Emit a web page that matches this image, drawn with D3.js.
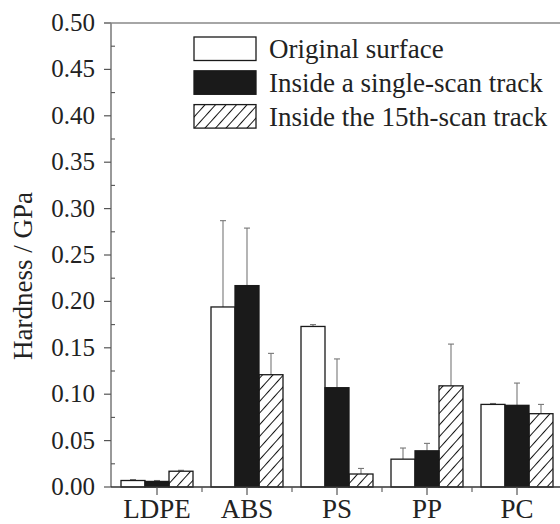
<!DOCTYPE html>
<html>
<head>
<meta charset="utf-8">
<script src="https://cdn.jsdelivr.net/npm/d3@7"></script>
<style>
  body { margin: 0; background: #fff; }
  text { font-family: "Liberation Serif", "Times New Roman", serif; fill: #222; }
</style>
</head>
<body>
<div id="chart"></div>
<script>
// Data
const categories = ["LDPE", "ABS", "PS", "PP", "PC"];
const seriesNames = ["Original surface", "Inside a single-scan track", "Inside the 15th-scan track"];
const original   = [0.007, 0.194, 0.173, 0.030, 0.089];
const single     = [0.006, 0.217, 0.107, 0.039, 0.088];
const fifteenth  = [0.017, 0.121, 0.014, 0.109, 0.079];
const originalErr  = [0.001, 0.093, 0.002, 0.012, 0.001];
const singleErr    = [0.001, 0.062, 0.031, 0.008, 0.024];
const fifteenthErr = [0.001, 0.023, 0.006, 0.045, 0.010];
const yTicks = [0, 0.05, 0.10, 0.15, 0.20, 0.25, 0.30, 0.35, 0.40, 0.45, 0.50];

const width = 560, height = 524;
const plotLeft = 111, plotTop = 23, plotBottom = 487;

const svg = d3.select("#chart").append("svg")
    .attr("width", width)
    .attr("height", height);

// hatch pattern for the 15th-scan series
const defs = svg.append("defs");
defs.append("pattern")
    .attr("id", "hatch")
    .attr("patternUnits", "userSpaceOnUse")
    .attr("width", 7.8)
    .attr("height", 10)
    .attr("patternTransform", "rotate(42)")
    .append("line")
    .attr("x1", 0).attr("y1", 0)
    .attr("x2", 0).attr("y2", 10)
    .attr("stroke", "#111")
    .attr("stroke-width", 2);

const fills = ["#fff", "#1a1a1a", "url(#hatch)"];

const x0 = d3.scaleBand()
    .domain(categories)
    .range([plotLeft + 1, plotLeft + 1 + 450]);

const x1 = d3.scaleBand()
    .domain(d3.range(3))
    .range([0, 72]);

const y = d3.scaleLinear()
    .domain([0, 0.5])
    .range([plotBottom, plotTop]);

const groups = categories.map((c, i) => ({
    cat: c,
    vals: [
        { s: 0, v: original[i], e: originalErr[i] },
        { s: 1, v: single[i], e: singleErr[i] },
        { s: 2, v: fifteenth[i], e: fifteenthErr[i] }
    ]
}));

const gBars = svg.append("g");
const g = gBars.selectAll("g.grp")
    .data(groups)
    .enter().append("g")
    .attr("class", "grp")
    .attr("transform", d => `translate(${x0(d.cat) + (x0.bandwidth() - 72) / 2},0)`);

// error bars (upper only)
g.selectAll("g.err")
    .data(d => d.vals)
    .enter().append("g")
    .attr("class", "err")
    .each(function (d) {
        const cx = x1(d.s) + x1.bandwidth() / 2;
        const sel = d3.select(this);
        sel.append("line")
            .attr("x1", cx).attr("x2", cx)
            .attr("y1", y(d.v)).attr("y2", y(d.v + d.e))
            .attr("stroke", "#777").attr("stroke-width", 1.1);
        sel.append("line")
            .attr("x1", cx - 3).attr("x2", cx + 3)
            .attr("y1", y(d.v + d.e)).attr("y2", y(d.v + d.e))
            .attr("stroke", "#777").attr("stroke-width", 1.1);
    });

g.selectAll("rect")
    .data(d => d.vals)
    .enter().append("rect")
    .attr("x", d => x1(d.s))
    .attr("y", d => y(d.v))
    .attr("width", x1.bandwidth())
    .attr("height", d => plotBottom - y(d.v))
    .attr("fill", d => fills[d.s])
    .attr("stroke", "#1a1a1a")
    .attr("stroke-width", 1.3);

// axes
const axisColor = "#555";
const yAxis = svg.append("g").attr("transform", `translate(${plotLeft},0)`);
yAxis.append("line")
    .attr("x1", 0).attr("x2", 0).attr("y1", plotTop).attr("y2", plotBottom)
    .attr("stroke", axisColor).attr("stroke-width", 1.2);
yAxis.selectAll("line.major")
    .data(yTicks)
    .enter().append("line")
    .attr("class", "major")
    .attr("x1", -7).attr("x2", 0)
    .attr("y1", d => y(d)).attr("y2", d => y(d))
    .attr("stroke", axisColor).attr("stroke-width", 1.2);
yAxis.selectAll("line.minor")
    .data(yTicks.slice(0, -1))
    .enter().append("line")
    .attr("class", "minor")
    .attr("x1", 0).attr("x2", 4)
    .attr("y1", d => y(d + 0.025)).attr("y2", d => y(d + 0.025))
    .attr("stroke", axisColor).attr("stroke-width", 1.1);
yAxis.selectAll("text")
    .data(yTicks)
    .enter().append("text")
    .attr("x", -16)
    .attr("y", d => y(d) + 8)
    .attr("text-anchor", "end")
    .attr("font-size", 25)
    .text(d => d3.format(".2f")(d));

// top frame line
svg.append("line")
    .attr("x1", plotLeft - 7).attr("x2", width)
    .attr("y1", plotTop).attr("y2", plotTop)
    .attr("stroke", "#888").attr("stroke-width", 1.3);

// x axis
const xAxis = svg.append("g");
xAxis.append("line")
    .attr("x1", plotLeft).attr("x2", width)
    .attr("y1", plotBottom).attr("y2", plotBottom)
    .attr("stroke", "#333").attr("stroke-width", 1.3);
xAxis.selectAll("line.major")
    .data(categories)
    .enter().append("line")
    .attr("class", "major")
    .attr("x1", d => x0(d) + x0.bandwidth() / 2)
    .attr("x2", d => x0(d) + x0.bandwidth() / 2)
    .attr("y1", plotBottom).attr("y2", plotBottom + 8)
    .attr("stroke", axisColor).attr("stroke-width", 1.2);
xAxis.selectAll("line.minor")
    .data(categories.slice(1))
    .enter().append("line")
    .attr("class", "minor")
    .attr("x1", d => x0(d))
    .attr("x2", d => x0(d))
    .attr("y1", plotBottom).attr("y2", plotBottom + 5)
    .attr("stroke", axisColor).attr("stroke-width", 1.1);
xAxis.selectAll("text")
    .data(categories)
    .enter().append("text")
    .attr("x", d => x0(d) + x0.bandwidth() / 2)
    .attr("y", 518)
    .attr("text-anchor", "middle")
    .attr("font-size", 27)
    .text(d => d);

// y title
svg.append("text")
    .attr("transform", "translate(32,276) rotate(-90)")
    .attr("text-anchor", "middle")
    .attr("font-size", 27)
    .text("Hardness / GPa");

// legend
const legend = svg.append("g").attr("transform", "translate(194,37)");
const li = legend.selectAll("g")
    .data(seriesNames)
    .enter().append("g")
    .attr("transform", (d, i) => `translate(0,${i * 33.8})`);
li.append("rect")
    .attr("width", 62).attr("height", 23.5)
    .attr("fill", (d, i) => fills[i])
    .attr("stroke", "#1a1a1a")
    .attr("stroke-width", 1.3);
li.append("text")
    .attr("x", 75)
    .attr("y", 21)
    .attr("font-size", 27)
    .text(d => d);
</script>
</body>
</html>
